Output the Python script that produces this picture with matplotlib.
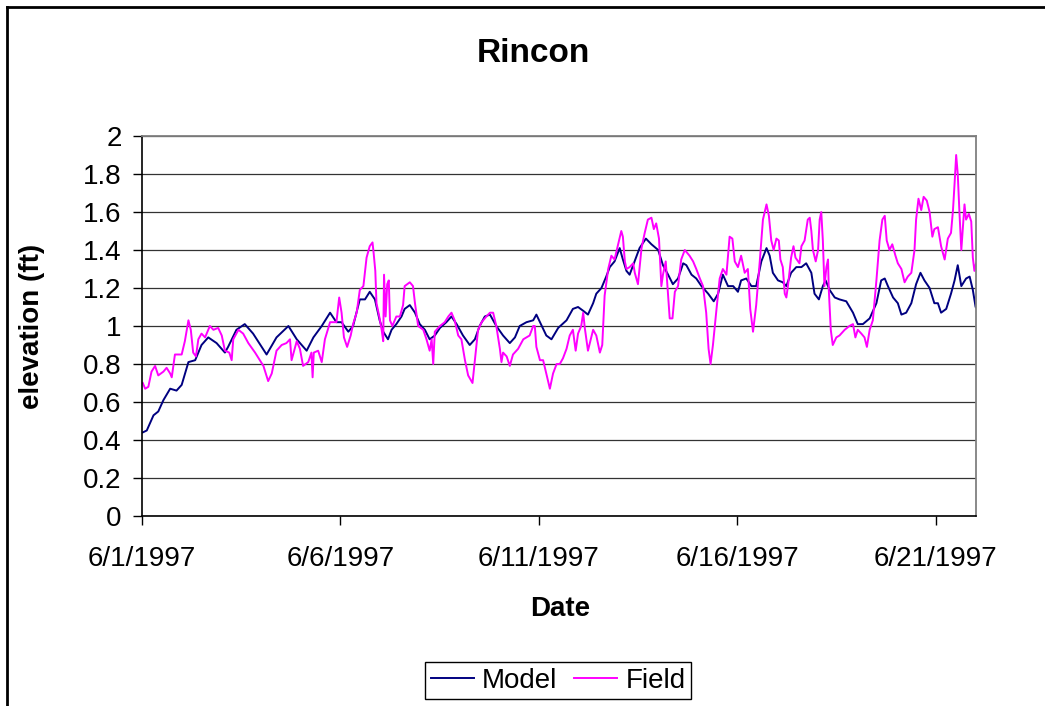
"""Rincon water elevation: model vs field, June 1997."""

import matplotlib

matplotlib.use("Agg")
import matplotlib.dates as mdates  # noqa: E402
import matplotlib.pyplot as plt  # noqa: E402
import pandas as pd
from matplotlib.lines import Line2D
from matplotlib.ticker import FuncFormatter

START = pd.Timestamp("1997-06-01")

# days since 6/1/1997 00:00, elevation in ft
model_day = [
    0.02, 0.12, 0.29, 0.41, 0.54, 0.71, 0.87, 1.00, 1.17, 1.34, 1.50, 1.67,
    1.88, 2.09, 2.17, 2.38, 2.59, 2.80, 3.14, 3.39, 3.69, 3.90, 4.15, 4.32,
    4.53, 4.74, 4.90, 5.03, 5.20, 5.32, 5.49, 5.62, 5.74, 5.87, 5.99, 6.08,
    6.20, 6.29, 6.41, 6.54, 6.62, 6.75, 6.88, 7.00, 7.13, 7.25, 7.38, 7.51,
    7.67, 7.80, 7.93, 8.09, 8.26, 8.39, 8.51, 8.64, 8.77, 8.93, 9.10, 9.27,
    9.40, 9.52, 9.69, 9.86, 9.94, 10.03, 10.19, 10.32, 10.49, 10.70, 10.86,
    10.99, 11.12, 11.24, 11.37, 11.45, 11.58, 11.70, 11.79, 11.91, 12.04,
    12.12, 12.21, 12.29, 12.38, 12.54, 12.70, 12.84, 13.01, 13.13, 13.26,
    13.38, 13.51, 13.64, 13.72, 13.85, 13.97, 14.10, 14.27, 14.41, 14.52,
    14.64, 14.77, 14.90, 15.02, 15.10, 15.23, 15.36, 15.48, 15.61, 15.74,
    15.82, 15.90, 16.03, 16.15, 16.24, 16.36, 16.49, 16.62, 16.74, 16.87,
    16.95, 17.06, 17.16, 17.23, 17.33, 17.46, 17.58, 17.75, 17.92, 18.04,
    18.17, 18.34, 18.51, 18.63, 18.72, 18.80, 18.93, 19.05, 19.14, 19.26,
    19.39, 19.51, 19.62, 19.72, 19.85, 19.97, 20.06, 20.14, 20.27, 20.39,
    20.48, 20.56, 20.65, 20.77, 20.86, 20.94, 21.01, 21.05,
]
model_ft = [
    0.44, 0.45, 0.53, 0.55, 0.61, 0.67, 0.66, 0.69, 0.81, 0.82, 0.90, 0.94,
    0.91, 0.86, 0.89, 0.98, 1.01, 0.96, 0.85, 0.94, 1.00, 0.93, 0.87, 0.94,
    1.00, 1.07, 1.02, 1.02, 0.97, 1.00, 1.14, 1.14, 1.18, 1.14, 1.03, 0.97,
    0.93, 0.98, 1.01, 1.05, 1.09, 1.11, 1.07, 1.01, 0.98, 0.93, 0.95, 0.99,
    1.02, 1.05, 1.01, 0.95, 0.90, 0.93, 1.00, 1.05, 1.06, 1.00, 0.95, 0.91,
    0.94, 1.00, 1.02, 1.03, 1.06, 1.02, 0.95, 0.93, 0.99, 1.03, 1.09,
    1.10, 1.08, 1.06, 1.12, 1.17, 1.20, 1.26, 1.31, 1.34, 1.41,
    1.35, 1.29, 1.27, 1.32, 1.41, 1.46, 1.43, 1.40, 1.32, 1.27,
    1.22, 1.25, 1.33, 1.32, 1.27, 1.25, 1.21, 1.17, 1.13, 1.17,
    1.27, 1.21, 1.21, 1.18, 1.24, 1.25, 1.21, 1.21, 1.34, 1.41,
    1.37, 1.28, 1.24, 1.23, 1.21, 1.28, 1.31, 1.31, 1.33, 1.28,
    1.17, 1.14, 1.21, 1.24, 1.19, 1.15, 1.14, 1.13, 1.07, 1.01,
    1.01, 1.04, 1.12, 1.24, 1.25, 1.21, 1.15, 1.12, 1.06, 1.07,
    1.12, 1.22, 1.28, 1.24, 1.20, 1.12, 1.12, 1.07, 1.09, 1.17,
    1.24, 1.32, 1.21, 1.25, 1.26, 1.19, 1.10, 1.09,
]

field_day = [
    0.02, 0.08, 0.16, 0.24, 0.33, 0.41, 0.54, 0.62, 0.71, 0.75, 0.79, 0.83,
    1.00, 1.08, 1.17, 1.23, 1.29, 1.36, 1.42, 1.50, 1.59, 1.71, 1.80, 1.92,
    2.01, 2.09, 2.20, 2.26, 2.30, 2.43, 2.55, 2.68, 2.85, 2.97, 3.06, 3.18,
    3.27, 3.35, 3.39, 3.52, 3.64, 3.73, 3.77, 3.90, 3.98, 4.06, 4.19, 4.27,
    4.30, 4.33, 4.44, 4.53, 4.61, 4.74, 4.90, 4.97, 5.03, 5.09, 5.17, 5.26,
    5.32, 5.41, 5.49, 5.58, 5.66, 5.74, 5.81, 5.84, 5.88, 5.91, 5.98, 6.04,
    6.08, 6.10, 6.14, 6.18, 6.22, 6.25, 6.31, 6.41, 6.50, 6.58, 6.62, 6.75,
    6.83, 6.88, 6.96, 7.09, 7.17, 7.25, 7.30, 7.34, 7.38, 7.51, 7.63, 7.72,
    7.80, 7.88, 7.97, 8.05, 8.14, 8.22, 8.33, 8.39, 8.47, 8.56, 8.68, 8.77,
    8.85, 8.93, 9.02, 9.06, 9.10, 9.19, 9.27, 9.35, 9.48, 9.61, 9.77, 9.86,
    9.90, 9.94, 10.03, 10.11, 10.19, 10.28, 10.36, 10.45, 10.53, 10.61,
    10.70, 10.78, 10.86, 10.93, 10.99, 11.07, 11.12, 11.16, 11.24, 11.30,
    11.37, 11.45, 11.54, 11.60, 11.66, 11.75, 11.83, 11.91, 12.00, 12.08,
    12.12, 12.17, 12.21, 12.29, 12.38, 12.42, 12.50, 12.59, 12.67, 12.75,
    12.84, 12.90, 12.96, 13.03, 13.09, 13.13, 13.20, 13.23, 13.30, 13.37,
    13.43, 13.51, 13.59, 13.68, 13.80, 13.89, 13.97, 14.06, 14.14, 14.22,
    14.28, 14.33, 14.39, 14.48, 14.56, 14.64, 14.73, 14.81, 14.88, 14.94,
    15.02, 15.10, 15.19, 15.27, 15.33, 15.40, 15.48, 15.57, 15.65, 15.74,
    15.80, 15.86, 15.92, 15.99, 16.05, 16.09, 16.15, 16.20, 16.24, 16.28,
    16.36, 16.42, 16.47, 16.57, 16.62, 16.70, 16.78, 16.83, 16.87, 16.91,
    16.98, 17.04, 17.08, 17.12, 17.16, 17.20, 17.25, 17.29, 17.31, 17.36,
    17.41, 17.50, 17.58, 17.71, 17.83, 17.92, 17.98, 18.04, 18.13, 18.21,
    18.27, 18.34, 18.42, 18.51, 18.59, 18.66, 18.72, 18.77, 18.84, 18.91,
    18.99, 19.05, 19.14, 19.22, 19.30, 19.39, 19.47, 19.51, 19.57, 19.64,
    19.70, 19.78, 19.85, 19.92, 19.97, 20.06, 20.14, 20.23, 20.31, 20.39,
    20.44, 20.48, 20.52, 20.56, 20.60, 20.65, 20.69, 20.73, 20.77, 20.84,
    20.90, 20.94, 20.98, 21.02, 21.05,
]
field_ft = [
    0.70, 0.67, 0.68, 0.76, 0.79, 0.74, 0.76, 0.78, 0.75, 0.73, 0.79, 0.85,
    0.85, 0.92, 1.03, 0.98, 0.86, 0.84, 0.93, 0.96, 0.94, 1.00, 0.98, 0.99,
    0.95, 0.87, 0.86, 0.82, 0.93, 0.98, 0.96, 0.91, 0.86, 0.82, 0.79, 0.71,
    0.75, 0.83, 0.87, 0.90, 0.91, 0.93, 0.82, 0.92, 0.88, 0.79, 0.81, 0.86,
    0.73, 0.86, 0.87, 0.81, 0.93, 1.02, 1.02, 1.15, 1.07, 0.94, 0.89, 0.95,
    1.01, 1.07, 1.19, 1.21, 1.36, 1.42, 1.44, 1.38, 1.29, 1.12, 1.05, 0.98,
    0.92, 1.27, 1.05, 1.22, 1.24, 1.03, 1.00, 1.05, 1.05, 1.11, 1.21, 1.23,
    1.21, 1.12, 1.00, 0.98, 0.93, 0.87, 0.93, 0.80, 0.97, 1.00, 1.02, 1.05,
    1.07, 1.03, 0.95, 0.93, 0.82, 0.74, 0.70, 0.82, 0.98, 1.02, 1.05, 1.07,
    1.07, 1.00, 0.88, 0.81, 0.86, 0.84, 0.79, 0.85, 0.88, 0.93, 0.95, 1.00,
    1.00, 0.89, 0.82, 0.82, 0.75, 0.67, 0.75, 0.80, 0.80, 0.83,
    0.88, 0.95, 0.98, 0.87, 0.96, 1.00, 1.07, 0.99, 0.87, 0.92,
    0.98, 0.95, 0.86, 0.90, 1.16, 1.30, 1.37, 1.35, 1.43, 1.50,
    1.47, 1.34, 1.30, 1.31, 1.33, 1.28, 1.22, 1.41, 1.49, 1.56,
    1.57, 1.51, 1.54, 1.46, 1.21, 1.27, 1.34, 1.25, 1.04, 1.04,
    1.18, 1.21, 1.35, 1.40, 1.37, 1.34, 1.30, 1.25, 1.21, 1.07,
    0.88, 0.80, 0.90, 1.09, 1.25, 1.30, 1.27, 1.47, 1.46, 1.34,
    1.31, 1.37, 1.28, 1.30, 1.09, 0.97, 1.11, 1.34, 1.56, 1.64,
    1.58, 1.45, 1.40, 1.46, 1.45, 1.35, 1.31, 1.17, 1.15, 1.21,
    1.36, 1.42, 1.36, 1.33, 1.42, 1.45, 1.56, 1.57, 1.50, 1.40,
    1.34, 1.40, 1.56, 1.60, 1.45, 1.21, 1.31, 1.35, 1.19, 0.98,
    0.90, 0.94, 0.95, 0.98, 1.00, 1.01, 0.94, 0.98, 0.96, 0.94,
    0.89, 0.98, 1.03, 1.24, 1.45, 1.56, 1.58, 1.45, 1.40, 1.43,
    1.37, 1.33, 1.30, 1.23, 1.26, 1.28, 1.40, 1.56, 1.67, 1.61,
    1.68, 1.66, 1.60, 1.47, 1.51, 1.52, 1.42, 1.35, 1.46, 1.49,
    1.61, 1.75, 1.90, 1.80, 1.61, 1.40, 1.52, 1.64, 1.56, 1.59,
    1.55, 1.36, 1.29, 1.33, 1.32,
]

y_ticks = [0, 0.2, 0.4, 0.6, 0.8, 1, 1.2, 1.4, 1.6, 1.8, 2]
x_tick_days = [1, 6, 11, 16, 21]

W, H = 1045, 706

plt.rcParams["font.family"] = ["Liberation Sans", "DejaVu Sans"]

model_t = START + pd.to_timedelta(model_day, unit="D")
field_t = START + pd.to_timedelta(field_day, unit="D")

fig = plt.figure(figsize=(W / 100, H / 100), dpi=100)
ax = fig.add_axes([142 / W, 1 - 516 / H, (976 - 142) / W, (516 - 136) / H])

ax.plot(model_t, model_ft, color="#000080", lw=1.4, label="Model")
ax.plot(field_t, field_ft, color="#FF00FF", lw=1.4, label="Field")

ax.set_ylim(0, 2)
ax.set_yticks(y_ticks)
ax.yaxis.set_major_formatter(FuncFormatter(lambda v, p: f"{v:g}"))
ax.set_xlim(START, START + pd.Timedelta(days=21.02))
ax.xaxis.set_major_locator(mdates.DayLocator(bymonthday=x_tick_days))


def _date_label(v, pos):
    d = mdates.num2date(v)
    return f"{d.month}/{d.day}/{d.year}"


ax.xaxis.set_major_formatter(FuncFormatter(_date_label))

ax.yaxis.grid(True, color="#333333", lw=0.9)
ax.set_axisbelow(True)
for side in ("top", "right"):
    ax.spines[side].set_color("#808080")
    ax.spines[side].set_linewidth(1.3)
for side in ("left", "bottom"):
    ax.spines[side].set_color("black")
    ax.spines[side].set_linewidth(1.2)
ax.tick_params(direction="out", length=6.5, width=1, labelsize=20)
ax.tick_params(axis="x", pad=15)
ax.tick_params(axis="y", pad=8)

fig.text(533 / W, 1 - 54 / H, "Rincon", fontsize=24, fontweight="bold",
         ha="center", va="center")
fig.text(560 / W, 1 - 609 / H, "Date", fontsize=20, fontweight="bold",
         ha="center", va="center")
fig.text(32 / W, 1 - 326 / H, "elevation (ft)", fontsize=20,
         fontweight="bold", rotation=90, ha="center", va="center")

leg = fig.legend(loc="center", bbox_to_anchor=(558 / W, 1 - 680.5 / H),
                 ncol=2, fontsize=20, fancybox=False, edgecolor="black",
                 framealpha=1, handlelength=1.55, handletextpad=0.3,
                 columnspacing=0.6, borderpad=0.2, borderaxespad=0)
leg.get_frame().set_linewidth(1.0)

# outer chart border (runs off the right and bottom edges)
fig.add_artist(Line2D([7 / W, 7 / W], [-0.01, 1 - 7 / H],
                      transform=fig.transFigure, color="black", lw=2))
fig.add_artist(Line2D([7 / W, 1.01], [1 - 7 / H, 1 - 7 / H],
                      transform=fig.transFigure, color="black", lw=2))

fig.savefig("out.png", dpi=100)
plt.close(fig)
